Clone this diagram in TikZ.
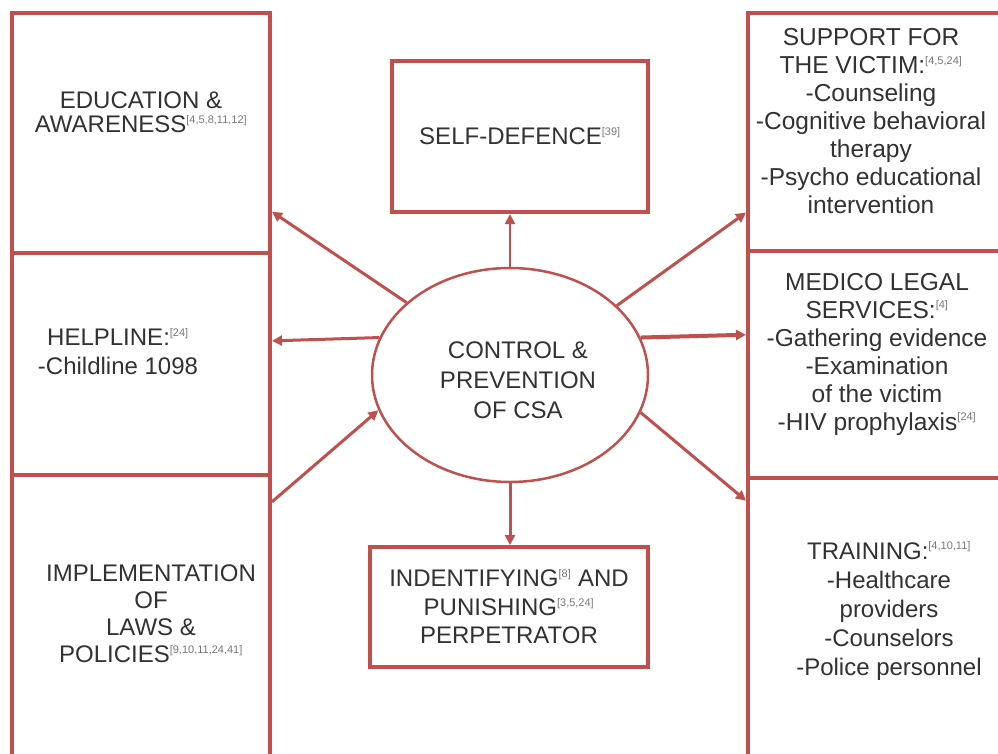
\documentclass[tikz,border=0pt]{standalone}
\usepackage{fontspec}
\setmainfont{Liberation Sans}
\usepackage{xcolor}
\usepackage{tikz}
\usetikzlibrary{positioning,shapes,arrows.meta}
\definecolor{boxred}{RGB}{192,80,77}
\definecolor{txtgray}{RGB}{50,50,50}
\definecolor{refgray}{RGB}{120,120,120}
\newcommand{\supref}[1]{\textsuperscript{\color{refgray}\fontsize{11}{11}\selectfont[#1]}}

\begin{document}
\begin{tikzpicture}[x=1pt, y=-1pt,
box/.style={rectangle, draw=boxred, line width=4pt, inner sep=0pt},
hub/.style={ellipse, draw=boxred, line width=2.5pt, fill=white, inner sep=0pt, minimum width=276pt, minimum height=214pt},
txt/.style={align=center, text=txtgray, inner sep=0pt},
arr/.style={draw=boxred, line width=3pt, -{Triangle[length=10pt,width=10pt]}}
]
\useasboundingbox (0,0) rectangle (998,754);
\fill[white] (0,0) rectangle (998,754);
\clip (0,0) rectangle (998,754);

%Left column
\node[box, minimum width=258pt, minimum height=240pt] (edu) at (141,133) {};
\node[box, minimum width=258pt, minimum height=222pt] (help) at (141,364) {};
\node[box, minimum width=258pt, minimum height=325pt] (impl) at (141,637.5) {};

%Right column
\node[box, minimum width=254pt, minimum height=238pt] (sup) at (875,132) {};
\node[box, minimum width=254pt, minimum height=227pt] (med) at (875,364.5) {};
\node[box, minimum width=254pt, minimum height=322pt] (trn) at (875,639) {};

%Middle column
\node[box, minimum width=256pt, minimum height=151pt, txt, font=\fontsize{24}{28}\selectfont] (sd) at (520,136.5) {SELF-DEFENCE\supref{39}};
\node[hub] (csa) at (510,375) {};
\node[txt, font=\fontsize{24}{30}\selectfont] (csatxt) at (518,380) {CONTROL \&\\PREVENTION\\OF CSA};
\node[box, minimum width=278pt, minimum height=120pt, txt, font=\fontsize{24}{28.5}\selectfont] (idp) at (509,607) {INDENTIFYING\supref{8} AND\\PUNISHING\supref{3,5,24}\\PERPETRATOR};

%Texts in the side boxes
\node[txt, font=\fontsize{24}{24}\selectfont] (edutxt) at (141,112) {EDUCATION \&\\AWARENESS\supref{4,5,8,11,12}};
\node[txt, font=\fontsize{24}{29}\selectfont] (helptxt) at (118,352) {HELPLINE:\supref{24}\\-Childline 1098};
\node[txt, font=\fontsize{24}{27}\selectfont] (impltxt) at (151,614) {IMPLEMENTATION\\OF\\LAWS \&\\POLICIES\supref{9,10,11,24,41}};
\node[txt, font=\fontsize{24.5}{28}\selectfont] (suptxt) at (871,121) {SUPPORT FOR\\THE VICTIM:\supref{4,5,24}\\-Counseling\\-Cognitive behavioral\\therapy\\-Psycho educational\\intervention};
\node[txt, font=\fontsize{24.5}{28}\selectfont] (medtxt) at (877,354) {MEDICO LEGAL\\SERVICES:\supref{4}\\-Gathering evidence\\-Examination\\of the victim\\-HIV prophylaxis\supref{24}};
\node[txt, font=\fontsize{24}{29}\selectfont] (trntxt) at (889,611) {TRAINING:\supref{4,10,11}\\-Healthcare\\providers\\-Counselors\\-Police personnel};

%Connections
\draw[arr] (csa.145) -- (edu.-31.5);
\draw[arr] (csa.164) -- (help.10.5);
\draw[arr] (impl.46.2) -- (csa.195);
\draw[arr, line width=2pt] (csa.north) -- (csa.north |- sd.south);
\draw[arr] (csa.south) -- (csa.south |- idp.north);
\draw[arr] (csa.33.7) -- (sup.212.7);
\draw[arr, line width=4pt] (csa.16) -- (med.167.7);
\draw[arr] (csa.344) -- (trn.133.2);
\end{tikzpicture}
\end{document}
